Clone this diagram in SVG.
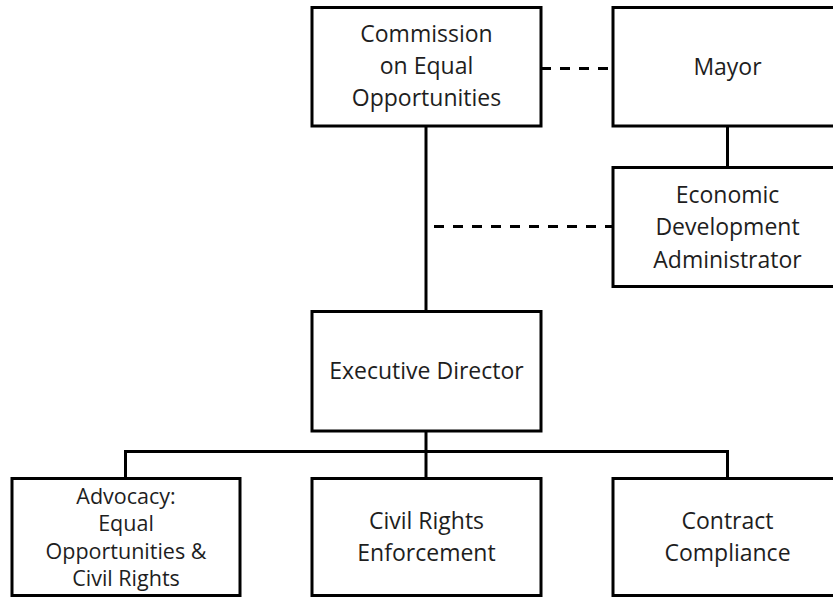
<svg xmlns="http://www.w3.org/2000/svg" width="833" height="597" viewBox="0 0 833 597">
<style>
.box{fill:#fff;stroke:#000;stroke-width:3}
.ln{fill:none;stroke:#000;stroke-width:3}
.dash{fill:none;stroke:#000;stroke-width:3;stroke-dasharray:10 9}
text{font-family:"Open Sans","Liberation Sans",sans-serif;font-size:23px;fill:#1e1e1e;text-anchor:middle}
.sm{font-size:21.5px}
</style>
<rect width="833" height="597" fill="#fff"/>
<g id="connectors">
<line class="ln" x1="426" y1="126" x2="426" y2="311.5"/>
<line class="dash" x1="541" y1="68.5" x2="613" y2="68.5"/>
<line class="dash" x1="434" y1="226.5" x2="613" y2="226.5"/>
<line class="ln" x1="727.5" y1="126" x2="727.5" y2="167.5"/>
<line class="ln" x1="426" y1="431" x2="426" y2="478.5"/>
<polyline class="ln" points="125.5,478.5 125.5,451.5 727.5,451.5 727.5,478.5"/>
</g>
<g id="commission">
<rect class="box" x="312" y="7.5" width="229" height="118.5"/>
<text x="426.5" y="41.5">Commission</text>
<text x="426.5" y="73.5">on Equal</text>
<text x="426.5" y="105.5">Opportunities</text>
</g>
<g id="mayor">
<rect class="box" x="613" y="7.5" width="229" height="118.5"/>
<text x="727.5" y="74.5">Mayor</text>
</g>
<g id="econ">
<rect class="box" x="613" y="167.5" width="229" height="119"/>
<text x="727.5" y="202.5">Economic</text>
<text x="727.5" y="235">Development</text>
<text x="727.5" y="267.5">Administrator</text>
</g>
<g id="exec">
<rect class="box" x="312" y="311.5" width="229" height="119.5"/>
<text x="426.5" y="379">Executive Director</text>
</g>
<g id="advocacy">
<rect class="box" x="12" y="478.5" width="228" height="117"/>
<text class="sm" x="126" y="503.5">Advocacy:</text>
<text class="sm" x="126" y="531">Equal</text>
<text class="sm" x="126" y="558.5">Opportunities &amp;</text>
<text class="sm" x="126" y="586">Civil Rights</text>
</g>
<g id="civil">
<rect class="box" x="312" y="478.5" width="229" height="117"/>
<text x="426.5" y="529">Civil Rights</text>
<text x="426.5" y="561">Enforcement</text>
</g>
<g id="contract">
<rect class="box" x="613" y="478.5" width="229" height="117"/>
<text x="727.5" y="529">Contract</text>
<text x="727.5" y="561">Compliance</text>
</g>
</svg>
